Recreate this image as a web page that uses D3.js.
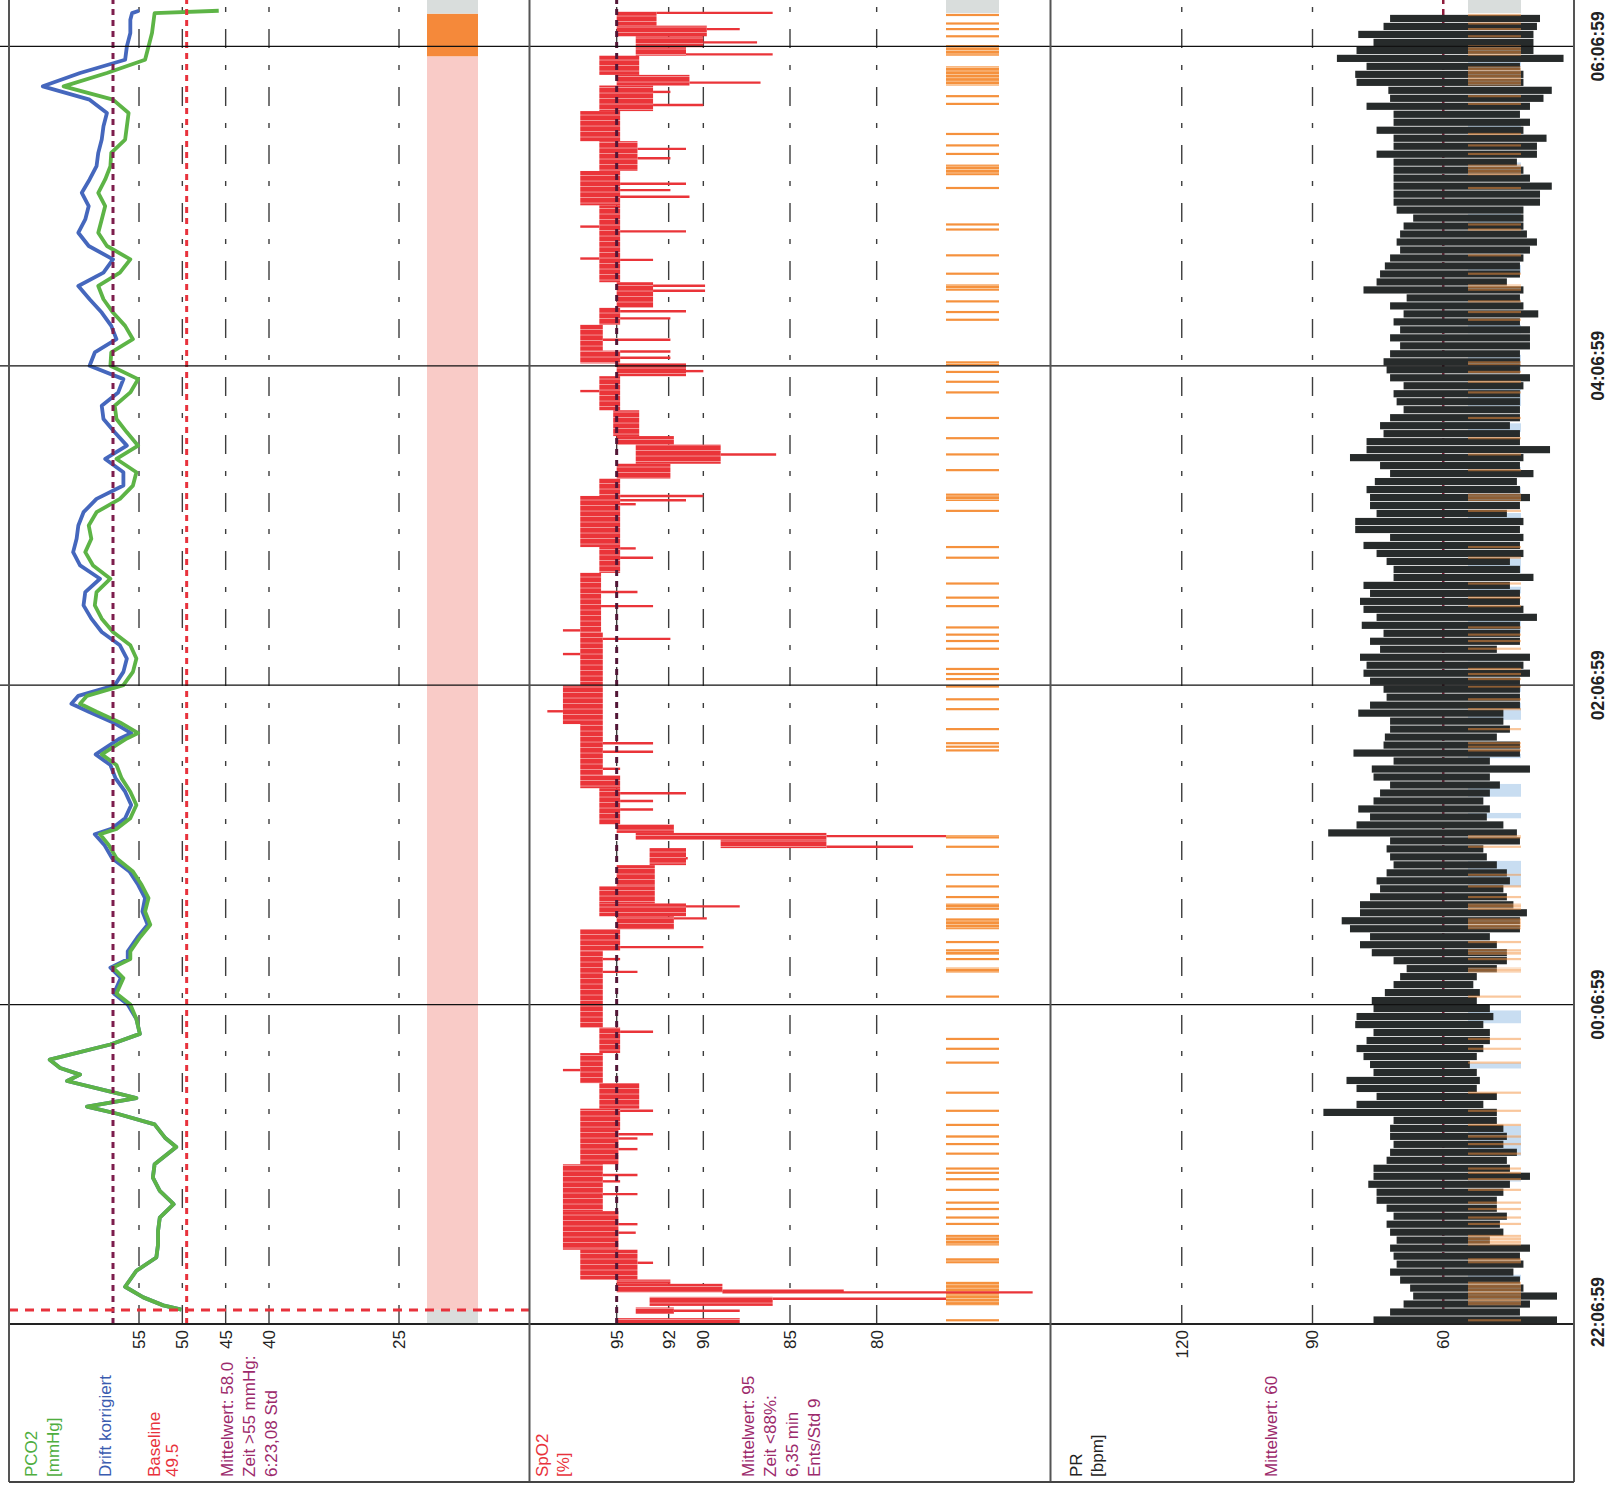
<!DOCTYPE html>
<html>
<head>
<meta charset="utf-8">
<script src="https://d3js.org/d3.v7.min.js"></script>
<style>
  body { margin: 0; background: #fff; }
  svg text { font-family: "Liberation Sans", Arial, sans-serif; }
</style>
</head>
<body>
<script>
// time is in minutes after 22:06:59, the chart is printed turned by 90 degrees
const timeTicks = [0, 120, 240, 360, 480];
const timeLabels = ["22:06:59", "00:06:59", "02:06:59", "04:06:59", "06:06:59"];

const pco2Ticks = [55, 50, 45, 40, 25];
const spo2Ticks = [95, 92, 90, 85, 80];
const prTicks = [120, 90, 60];

const pco2Mean = 58.0, pco2Baseline = 49.5, spo2Mean = 95, prMean = 60;
const baselineTime = 5.3;

const pco2Min = [5.4, 7, 10, 14, 20, 25, 30, 35, 40, 45, 50, 55, 60, 66.5, 70, 75, 79, 81.7, 84.9, 87.3,
  91.3, 93.7, 96.2, 99.3, 105, 109, 114.6, 120, 124.2, 130, 133.9, 137.1, 140, 145.2, 150, 155, 160, 165,
  170, 175, 180, 184, 186, 190, 195, 200, 205, 210, 214, 220, 222, 226, 230, 233, 236, 240, 245, 250, 255,
  260, 265, 270, 275, 280, 285, 290, 295, 300, 305, 310, 315, 320, 325, 330, 335, 340, 345, 350, 355, 360,
  365, 370, 375, 380, 385, 390, 395, 400, 405, 410, 415, 420, 425, 430, 435, 440, 445, 450, 455, 460, 465,
  470, 475, 480, 485, 490, 492.5, 493.4];
const pco2 = [50.1, 52.2, 54.5, 56.6, 55.3, 53.0, 52.8, 52.8, 52.6, 51.0, 52.6, 53.4, 53.2, 50.7, 52.0, 53.2,
  57.5, 61.0, 55.3, 58.3, 63.3, 61.8, 64.1, 65.3, 58.3, 54.9, 55.3, 56.0, 57.6, 56.8, 58.0, 56.0, 56.0, 54.9,
  53.7, 54.3, 53.9, 54.7, 55.7, 57.6, 58.5, 59.5, 57.6, 56.0, 55.3, 56.0, 57.0, 57.6, 59.3, 56.4, 55.1, 57.2,
  59.9, 61.8, 61.0, 56.8, 55.7, 55.3, 56.0, 58.0, 59.3, 60.1, 59.9, 58.3, 60.3, 61.2, 60.5, 60.8, 59.9, 57.2,
  55.7, 55.3, 57.6, 55.1, 56.4, 57.6, 57.8, 56.0, 55.1, 58.3, 58.2, 55.7, 56.6, 58.0, 59.1, 59.7, 57.2, 56.0,
  58.7, 59.7, 59.3, 58.9, 59.7, 58.9, 58.3, 58.2, 56.6, 56.4, 56.2, 58.0, 63.7, 58.7, 54.3, 53.9, 53.5, 53.3,
  53.2, 45.8];
const pco2Drift = [50.1, 52.2, 54.5, 56.6, 55.3, 53.0, 52.8, 52.8, 52.6, 51.0, 52.6, 53.4, 53.2, 50.7, 52.0, 53.2,
  57.5, 61.0, 55.3, 58.3, 63.3, 61.8, 64.1, 65.3, 58.3, 54.9, 55.3, 56.3, 57.9, 57.1, 58.3, 56.3, 56.3, 55.2,
  54.0, 54.6, 54.3, 55.1, 56.1, 58.1, 59.0, 60.1, 58.2, 56.6, 55.9, 56.6, 57.7, 58.3, 60.0, 57.2, 55.9, 58.0,
  60.8, 62.8, 62.0, 57.8, 56.8, 56.4, 57.2, 59.3, 60.5, 61.4, 61.2, 59.5, 61.8, 62.6, 62.2, 62.0, 61.4, 59.9,
  56.8, 56.8, 58.9, 56.4, 57.8, 59.1, 59.3, 57.4, 56.8, 60.7, 60.1, 57.6, 58.2, 59.3, 60.7, 62.0, 59.1, 58.0,
  60.8, 62.0, 61.2, 60.8, 61.6, 60.7, 59.9, 59.7, 59.3, 59.1, 58.7, 60.7, 66.1, 61.8, 56.6, 56.4, 56.0, 56.0,
  55.8, 55.0];

// PCO2 state strip: [from, to, state]
const pco2Strip = [[0, 5.3, "none"], [5.3, 476.3, "high"], [476.3, 492.3, "alarm"], [492.3, 498, "none"]];

// SpO2 dense blocks [from, to, upper %, lower %]
const spo2Blocks = [
  [0.3, 2.2, 95.0, 87.9], [3.8, 6.2, 93.9, 91.7], [6.8, 10.2, 93.1, 86.0], [11.9, 15.1, 95.0, 88.9],
  [15.1, 16.7, 95.0, 91.9], [16.7, 27.9, 97.1, 93.8], [27.9, 42.4, 98.1, 94.9], [42.4, 60, 98.1, 95.8],
  [60, 72.9, 97.1, 94.9], [72.9, 80.9, 97.1, 94.8], [80.9, 90.5, 96.0, 93.7], [90.5, 101.8, 97.1, 95.8],
  [101.8, 111.4, 96.0, 94.8], [111.4, 140.3, 97.1, 95.8], [140.3, 148.3, 97.1, 94.8], [148.3, 153.2, 95.0, 91.7],
  [153.2, 158, 96.0, 91.0], [158, 164.4, 96.0, 92.8], [164.4, 172.4, 95.0, 92.8], [172.4, 178.8, 93.1, 91.0],
  [178.8, 182, 89.0, 82.9], [182, 184.5, 93.9, 82.9], [184.5, 187.7, 95.0, 91.7], [187.7, 201.3, 96.0, 94.8],
  [201.3, 206.1, 97.1, 94.8], [206.1, 225.4, 97.1, 95.8], [225.4, 239.9, 98.1, 95.8], [239.9, 259.8, 97.1, 95.8],
  [259.8, 282.2, 97.1, 95.9], [282.2, 291.9, 96.0, 94.8], [291.9, 311.1, 97.1, 94.8], [311.1, 317.6, 96.0, 94.8],
  [317.6, 323.2, 95.0, 91.9], [323.2, 330.4, 93.9, 89.0], [330.4, 333.6, 95.0, 91.7], [333.6, 343.3, 95.2, 93.7],
  [343.3, 356.1, 96.0, 94.8], [356.1, 360.9, 95.0, 91.0], [360.9, 365.7, 97.1, 94.8], [365.7, 375.4, 97.1, 95.8],
  [375.4, 381.8, 96.0, 94.8], [381.8, 391.4, 95.0, 92.9], [391.4, 420.3, 96.0, 94.8], [420.3, 433.2, 97.1, 94.8],
  [433.2, 444.4, 96.0, 93.8], [444.4, 455.7, 97.1, 94.8], [455.7, 465.3, 96.0, 92.9], [465.3, 469.3, 95.0, 90.8],
  [469.3, 476.5, 96.0, 93.7], [476.5, 479.7, 93.9, 91.0], [479.7, 483.8, 93.9, 90.0], [483.8, 487.8, 95.0, 89.8],
  [487.8, 493, 95.0, 92.7]];

// single SpO2 excursions [time, %]
const spo2Spikes = [[5, 87.9], [9.5, 76.0], [11.9, 71.0], [12.5, 81.9], [23, 92.9], [34.3, 93.9], [37.5, 93.8],
  [48.8, 93.8], [53.6, 94.8], [56, 93.8], [65.7, 93.8], [69.7, 93.8], [71.3, 92.9], [80.1, 92.9], [95.4, 98.1],
  [109.8, 92.9], [132.3, 93.8], [137.1, 94.8], [141.6, 90.0], [152.4, 89.8], [156.9, 87.9], [175, 90.9],
  [179.3, 77.9], [183.3, 76.0], [193.3, 92.9], [196.5, 92.9], [199.4, 91.0], [208.6, 94.8], [215, 92.9],
  [218.2, 92.9], [230.2, 99.0], [251.7, 98.1], [257.4, 91.9], [260.6, 98.1], [269.7, 92.9], [275, 93.8],
  [287.9, 92.9], [291.4, 93.9], [308, 93.9], [309.5, 91.0], [311.1, 90.0], [326.7, 85.8], [350.5, 97.1],
  [358, 90.0], [363, 91.9], [365.4, 91.9], [369.8, 91.9], [377.8, 91.9], [380.5, 91.0], [388.2, 89.9],
  [390.1, 89.9], [399.8, 92.9], [400.3, 97.1], [410.5, 91.0], [412.3, 97.1], [423.5, 90.8], [426, 91.9],
  [428.4, 91.0], [438, 91.9], [441.5, 91.0], [458, 90.0], [462.9, 91.9], [466.4, 86.7], [477, 86.0],
  [481.5, 86.9], [486.5, 87.9], [492.6, 86.0]];

// desaturation events [from, to]
const desatEvents = [[1.4, 1.4], [7, 15.9], [22.8, 24.7], [29.5, 33.5], [37.6, 37.6], [40, 40], [43.2, 43.2],
  [45.6, 45.6], [50.4, 50.4], [54.4, 54.4], [56.8, 56.8], [58.4, 58.4], [64, 64], [67.6, 67.6], [70, 71],
  [74.8, 74.8], [80.1, 80.1], [86.9, 86.9], [98.2, 98.2], [103.4, 103.4], [107.1, 107.1], [123, 123],
  [132, 133.9], [137.1, 137.1], [138.7, 140.8], [143.5, 143.5], [148.3, 152.4], [155.6, 158], [160.4, 160.4],
  [164.4, 164.4], [168.4, 169.2], [179.3, 179.3], [182.4, 183.7], [215.5, 215.5], [216.9, 216.9],
  [218.2, 218.2], [223.5, 223.5], [231, 231], [234.7, 234.7], [239.5, 239.5], [242.3, 242.3], [244.2, 244.2],
  [246.1, 246.1], [253.7, 253.7], [256.6, 256.6], [259, 259], [261.7, 261.7], [269.7, 269.7], [272.9, 272.9],
  [278.2, 278.2], [287.9, 287.9], [291.9, 291.9], [305.5, 305.5], [309.2, 312], [320.8, 320.8], [326.7, 326.7],
  [332.8, 332.8], [340.4, 340.4], [350, 350], [354, 354], [357.7, 357.7], [360.1, 361.7], [377.3, 377.3],
  [380.2, 380.2], [384.2, 384.2], [388.2, 390.6], [394.6, 394.6], [401.5, 401.5], [411.2, 411.2],
  [413.1, 413.1], [426.8, 426.8], [431.6, 435.6], [439.6, 439.6], [442.8, 442.8], [447.1, 447.1],
  [458.4, 458.4], [461.3, 461.3], [465.3, 472.5], [476.5, 480.5], [483.8, 483.8], [486.5, 486.5],
  [488.6, 488.6], [491.8, 491.8]];

// PR strip, light blue periods [from, to]
const prMarks = [[16.5, 18.5], [53.5, 55.5], [63.2, 74.5], [96, 98], [113, 117.8], [164.4, 174], [190, 192],
  [198.1, 202.9], [212.6, 214.2], [227, 233.4], [237.5, 239.9], [249, 251.5], [259.8, 266.2], [274.5, 277],
  [282.2, 290.3], [301.5, 304.7], [311.1, 314.4], [319, 322], [335.2, 338.4], [344.9, 352.9], [357.7, 364.1],
  [372.2, 375.4], [381.8, 385], [394.6, 397.8], [412.3, 417.1], [433.2, 436.4], [449, 452], [468.5, 476.5]];

// pulse rate, 3 minute bins: highest and lowest bpm in each bin
const prBin = 3;
const prHigh = [76.0, 72.2, 69.1, 66.9, 67.6, 69.9, 72.2, 70.7, 71.4, 72.2, 70.7, 72.2, 73.0, 71.4, 73.0, 75.3,
  75.3, 77.2, 76.0, 76.0, 73.0, 72.2, 71.4, 72.2, 72.2, 71.4, 87.5, 79.9, 75.3, 79.9, 82.2, 76.0, 76.8, 78.3,
  79.9, 77.6, 76.0, 80.2, 79.9, 76.0, 76.4, 73.4, 71.4, 69.9, 68.4, 71.4, 76.4, 79.1, 76.8, 81.4, 83.3, 79.1,
  79.1, 76.8, 74.5, 75.3, 73.0, 71.4, 72.2, 73.0, 72.2, 86.4, 79.9, 76.8, 79.5, 76.0, 74.5, 72.2, 76.0, 76.4,
  71.4, 80.6, 73.7, 73.4, 72.2, 72.2, 79.5, 76.8, 73.0, 73.7, 76.8, 78.3, 77.6, 79.1, 74.5, 76.8, 73.7, 78.7,
  75.3, 78.3, 79.1, 76.8, 78.3, 71.4, 71.4, 73.0, 75.3, 78.3, 72.2, 80.2, 80.2, 75.3, 76.8, 76.8, 77.6, 75.7,
  72.2, 74.5, 81.4, 77.6, 77.6, 73.7, 74.5, 72.2, 69.1, 70.7, 71.4, 69.1, 72.2, 73.0, 73.7, 72.2, 69.9, 72.2,
  69.9, 71.4, 69.1, 72.2, 68.4, 78.3, 75.3, 74.5, 73.4, 72.2, 69.9, 70.7, 69.9, 69.1, 66.9, 70.7, 71.4, 71.4,
  71.4, 71.4, 71.4, 71.4, 75.3, 71.4, 71.4, 75.3, 71.4, 71.4, 77.6, 72.2, 72.6, 79.9, 80.2, 77.6, 84.4, 79.9,
  76.0, 79.5, 73.7, 72.2];
const prLow = [33.9, 42.4, 40.1, 33.9, 41.6, 42.4, 43.9, 41.6, 42.4, 40.1, 49.3, 46.2, 47.0, 45.4, 47.7, 47.7,
  46.2, 44.7, 40.1, 44.7, 45.4, 43.1, 46.2, 45.4, 46.2, 47.7, 47.7, 50.8, 47.7, 52.3, 51.6, 52.3, 53.9, 52.3,
  50.8, 49.3, 49.3, 50.8, 48.5, 49.3, 52.3, 51.6, 53.1, 52.3, 47.7, 45.4, 45.4, 47.7, 49.3, 42.4, 42.4, 40.8,
  43.9, 45.4, 46.2, 44.7, 45.4, 47.7, 50.0, 50.8, 42.4, 43.1, 46.2, 50.0, 49.3, 50.8, 49.3, 47.0, 49.3, 40.1,
  49.3, 42.4, 42.4, 47.7, 44.7, 46.2, 46.2, 42.4, 42.4, 42.4, 42.4, 40.1, 41.6, 40.1, 47.7, 42.4, 42.4, 42.4,
  38.5, 41.6, 42.4, 42.4, 44.7, 39.3, 42.4, 44.7, 41.6, 42.4, 41.6, 42.4, 41.6, 45.4, 42.4, 40.1, 42.4, 43.1,
  39.3, 42.4, 41.6, 35.5, 42.4, 42.4, 44.7, 42.4, 42.4, 42.4, 42.4, 41.6, 40.1, 42.4, 42.4, 42.4, 40.1, 40.1,
  40.1, 42.4, 38.2, 41.6, 42.4, 41.6, 45.4, 42.4, 42.4, 41.6, 40.1, 38.5, 40.8, 41.6, 41.6, 41.6, 37.8, 37.8,
  35.1, 40.1, 41.6, 43.1, 38.5, 38.5, 36.3, 41.6, 40.1, 42.4, 40.1, 37.0, 35.1, 41.6, 41.6, 42.4, 32.4, 39.3,
  39.3, 39.3, 38.5, 37.8];

const W = 1609, H = 1492;
const dataEnd = 498;

const svg = d3.select("body").append("svg")
    .attr("width", W)
    .attr("height", H)
    .style("display", "block");

svg.append("rect").attr("width", W).attr("height", H).attr("fill", "#fff");

// striped fills for the dense blocks, a printed trace is made of many thin strokes
let defs = svg.append("defs");
let stripes = (id, color, period, gap, bg) => {
  let p = defs.append("pattern").attr("id", id)
      .attr("patternUnits", "userSpaceOnUse")
      .attr("width", 8).attr("height", period);
  p.append("rect").attr("width", 8).attr("height", period).attr("fill", bg);
  p.append("rect").attr("width", 8).attr("height", period - gap).attr("fill", color);
};
stripes("redStripes", "#ea3439", 5.5, 0.6, "#f8c9c9");
stripes("orangeStripes", "#f5913d", 3.4, 0.7, "#fbd9b8");

let y = d3.scaleLinear().domain([0, 480]).range([1324, 46.4]);
let xPco2 = d3.scaleLinear().domain([70, 10]).range([9, 529]);
let xSpo2 = d3.scaleLinear().domain([100, 70]).range([530, 1050]);
let xPr = d3.scaleLinear().domain([150, 30]).range([1051, 1574]);

const frameLeft = 9, frameRight = 1574, frameBottom = 1482, axisY = y(0);
const panelEdges = [9, 529.5, 1050.5, 1574];
const pco2StripX = [427, 478], spo2StripX = [946, 999], prStripX = [1468, 1521];

const grey = "#d9dddc", orange = "#f5913d";

// ---- strips
let stripColor = {none: grey, high: "#f9cbc7", alarm: "#f5893a"};
svg.append("g").selectAll("rect").data(pco2Strip).join("rect")
    .attr("x", pco2StripX[0]).attr("width", pco2StripX[1] - pco2StripX[0])
    .attr("y", d => y(d[1])).attr("height", d => y(d[0]) - y(d[1]))
    .attr("fill", d => stripColor[d[2]]);

[spo2StripX, prStripX].forEach(sx => {
  svg.append("rect")
      .attr("x", sx[0]).attr("width", sx[1] - sx[0])
      .attr("y", y(dataEnd)).attr("height", y(492.5) - y(dataEnd))
      .attr("fill", grey);
});

svg.append("g").selectAll("rect").data(prMarks).join("rect")
    .attr("x", prStripX[0]).attr("width", prStripX[1] - prStripX[0])
    .attr("y", d => y(d[1])).attr("height", d => y(d[0]) - y(d[1]))
    .attr("fill", "#c8ddf1");

let drawEvents = (sx) => {
  let g = svg.append("g");
  desatEvents.forEach(d => {
    let single = d[1] - d[0] < 0.5;
    g.append("rect")
        .attr("x", sx[0]).attr("width", sx[1] - sx[0])
        .attr("y", single ? y(d[0]) - 1.1 : y(d[1]))
        .attr("height", single ? 2.2 : y(d[0]) - y(d[1]))
        .attr("fill", single ? orange : "url(#orangeStripes)");
  });
  return g;
};
drawEvents(spo2StripX);

// ---- value grid lines
let dash = "19,17,5,17";
let vGrid = (ticks, x) => {
  svg.append("g").selectAll("line").data(ticks).join("line")
      .attr("x1", d => x(d)).attr("x2", d => x(d))
      .attr("y1", axisY).attr("y2", 0)
      .attr("stroke", "#3d3d3d").attr("stroke-width", 1.4)
      .attr("stroke-dasharray", dash);
};
vGrid(pco2Ticks, xPco2);
vGrid(spo2Ticks, xSpo2);
vGrid(prTicks.filter(d => d != 60), xPr);

// PR mean line sits under the signal
svg.append("line")
    .attr("x1", xPr(prMean)).attr("x2", xPr(prMean))
    .attr("y1", axisY).attr("y2", 0)
    .attr("stroke", "#8e1c3c").attr("stroke-width", 2.5)
    .attr("stroke-dasharray", "6,5");

// ---- PCO2 curves
let pts = (vals) => pco2Min.map((m, i) => ({m: m, v: vals[i]}));
let line = d3.line().x(d => xPco2(d.v)).y(d => y(d.m));
svg.append("path").attr("d", line(pts(pco2Drift)))
    .attr("fill", "none").attr("stroke", "#4567bd").attr("stroke-width", 3.8)
    .attr("stroke-linejoin", "round");
svg.append("path").attr("d", line(pts(pco2)))
    .attr("fill", "none").attr("stroke", "#5db446").attr("stroke-width", 3.8)
    .attr("stroke-linejoin", "round");

// ---- SpO2
let red = "#ea3439";
svg.append("g").selectAll("rect").data(spo2Blocks).join("rect")
    .attr("x", d => xSpo2(d[2])).attr("width", d => xSpo2(d[3]) - xSpo2(d[2]))
    .attr("y", d => y(d[1])).attr("height", d => y(d[0]) - y(d[1]))
    .attr("fill", "url(#redStripes)");

let blockAt = (m) => spo2Blocks.find(b => m >= b[0] && m <= b[1]) || [m, m, 96, 95];
svg.append("g").selectAll("line").data(spo2Spikes).join("line")
    .attr("x1", d => {
      let b = blockAt(d[0]);
      return d[1] > b[2] ? xSpo2(b[2]) : xSpo2(b[3]);
    })
    .attr("x2", d => xSpo2(d[1]))
    .attr("y1", d => y(d[0])).attr("y2", d => y(d[0]))
    .attr("stroke", red).attr("stroke-width", 2.4);

// ---- pulse rate
let binH = y(0) - y(prBin);
svg.append("g").selectAll("rect").data(prHigh).join("rect")
    .attr("x", d => xPr(d))
    .attr("width", (d, i) => xPr(prLow[i]) - xPr(d))
    .attr("y", (d, i) => y((i + 1) * prBin) + 0.4)
    .attr("height", binH - 0.8)
    .attr("fill", "#272b2b");

drawEvents(prStripX).attr("opacity", 0.5);

// ---- mean and baseline markers
let meanLine = (x, color, w) => {
  svg.append("line")
      .attr("x1", x).attr("x2", x).attr("y1", axisY).attr("y2", 0)
      .attr("stroke", color).attr("stroke-width", w)
      .attr("stroke-dasharray", "6,5");
};
meanLine(xPco2(pco2Mean), "#7d1d4d", 3);
meanLine(xPco2(pco2Baseline), "#e8323c", 3);
meanLine(xSpo2(spo2Mean), "#521636", 3);

svg.append("line")
    .attr("x1", frameLeft).attr("x2", 536)
    .attr("y1", y(baselineTime)).attr("y2", y(baselineTime))
    .attr("stroke", "#e8323c").attr("stroke-width", 3)
    .attr("stroke-dasharray", "9,7");

// ---- time grid and frame
svg.append("g").selectAll("line").data(timeTicks.slice(1)).join("line")
    .attr("x1", 0).attr("x2", frameRight)
    .attr("y1", d => y(d)).attr("y2", d => y(d))
    .attr("stroke", "#111").attr("stroke-width", 1.3);

svg.append("line")
    .attr("x1", frameLeft).attr("x2", frameRight)
    .attr("y1", axisY).attr("y2", axisY)
    .attr("stroke", "#222").attr("stroke-width", 2);

svg.append("g").selectAll("line").data(panelEdges).join("line")
    .attr("x1", d => d).attr("x2", d => d)
    .attr("y1", 0).attr("y2", frameBottom)
    .attr("stroke", "#555").attr("stroke-width", 2);

svg.append("line")
    .attr("x1", frameLeft).attr("x2", frameRight)
    .attr("y1", frameBottom).attr("y2", frameBottom)
    .attr("stroke", "#444").attr("stroke-width", 2);

// ---- text, all turned to read upwards
let label = (x, yy, txt, color, opts) => {
  opts = opts || {};
  return svg.append("text")
      .attr("transform", "translate(" + x + "," + yy + ") rotate(-90)")
      .attr("text-anchor", opts.anchor || "start")
      .attr("dy", opts.dy || 0)
      .attr("font-size", opts.size || 17)
      .attr("font-weight", opts.weight || "normal")
      .attr("fill", color)
      .text(txt);
};

pco2Ticks.forEach(t => label(xPco2(t), 1330, t, "#222", {anchor: "end", dy: "0.35em"}));
spo2Ticks.forEach(t => label(xSpo2(t), 1330, t, "#222", {anchor: "end", dy: "0.35em"}));
prTicks.forEach(t => label(xPr(t), 1330, t, "#222", {anchor: "end", dy: "0.35em"}));

timeTicks.forEach((t, i) => label(1604, i == 0 ? y(t) - 12 : y(t), timeLabels[i], "#222",
    {anchor: "middle", weight: "bold", size: 17.5}));

let textX = 1477;
let green = "#4fae3f", blue = "#3a5cb0", redText = "#e8323c", purple = "#9c2a6c";
label(37, textX, "PCO2", green);
label(59, textX, "[mmHg]", green);
label(111, textX, "Drift korrigiert", blue);
label(160, textX, "Baseline", redText);
label(178, textX, "49.5", redText);
label(233, textX, "Mittelwert: 58.0", purple);
label(255, textX, "Zeit >55 mmHg:", purple);
label(277, textX, "6:23,08 Std", purple);

label(548, textX, "SpO2", redText);
label(569, textX, "[%]", redText);
label(754, textX, "Mittelwert: 95", purple);
label(776, textX, "Zeit <88%:", purple);
label(798, textX, "6,35 min", purple);
label(820, textX, "Ents/Std 9", purple);

label(1082, textX, "PR", "#222");
label(1103, textX, "[bpm]", "#222");
label(1277, textX, "Mittelwert: 60", purple);
</script>
</body>
</html>
